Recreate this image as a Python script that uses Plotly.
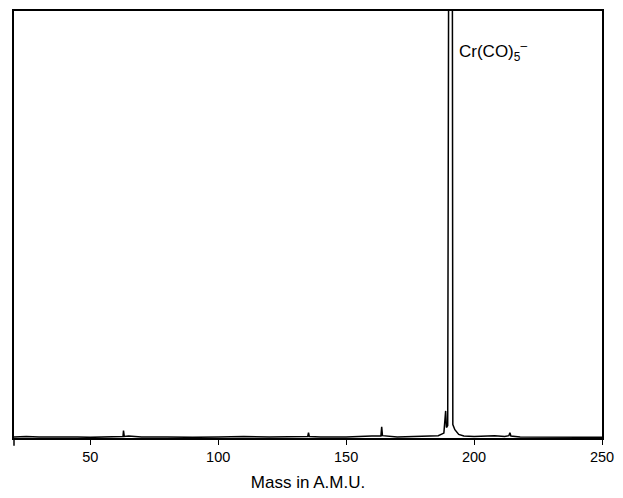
import plotly.graph_objects as go

# Negative-ion mass spectrum: profile trace (mass in amu, relative intensity)
mass = [20, 25, 30, 35, 40, 45, 50, 55, 60, 62.8, 63.0, 63.3, 65, 70, 80, 90,
        100, 110, 120, 130, 135.0, 135.3, 135.6, 140, 150, 160, 163.6, 163.9,
        164.2, 170, 180, 186, 188.2, 188.6, 188.9, 189.2, 189.7, 190.1, 191.5,
        191.7, 192.5, 194, 196, 200, 205, 208, 212, 213.6, 214.0, 214.4, 218,
        230, 250]
intensity = [0.1, 0.2, 0.1, 0.1, 0.2, 0.1, 0.0, 0.1, 0.1, 0.2, 1.6, 0.2, 0.3,
             0.1, 0.1, 0.0, 0.1, 0.2, 0.1, 0.1, 0.2, 1.1, 0.2, 0.1, 0.1, 0.3,
             0.3, 2.5, 0.4, 0.1, 0.2, 0.4, 1.0, 6.0, 6.2, 2.3, 2.8, 120, 120,
             3.0, 1.8, 0.7, 0.3, 0.2, 0.3, 0.4, 0.2, 0.4, 1.1, 0.3, 0.1, 0.0,
             0.0]

tick_vals = [50, 100, 150, 200, 250]
peak_label = "Cr(CO)<sub>5</sub><sup>\u2013</sup>"

fig = go.Figure()
fig.add_trace(go.Scatter(
    x=mass, y=intensity, mode="lines",
    line=dict(color="black", width=1.5),
    hoverinfo="skip", showlegend=False,
))

fig.update_layout(
    width=623, height=498,
    margin=dict(l=14, r=12, t=9, b=56),
    paper_bgcolor="white", plot_bgcolor="white",
    font=dict(family="Liberation Sans, Arial, sans-serif", size=15, color="black"),
    xaxis=dict(
        range=[20.2, 250], tickvals=tick_vals, ticktext=[str(v) for v in tick_vals],
        ticks="outside", ticklen=5, tickwidth=1.2, tickcolor="black",
        ticklabeloverflow="allow",
        showline=True, linecolor="black", linewidth=1.5, mirror=True,
        showgrid=False, zeroline=False,
        title=dict(text="Mass in A.M.U.", standoff=12, font=dict(size=17)),
        tickfont=dict(size=14.5),
    ),
    yaxis=dict(
        range=[-0.15, 100], showticklabels=False, ticks="",
        showline=True, linecolor="black", linewidth=1.5, mirror=True,
        showgrid=False, zeroline=False,
    ),
    annotations=[dict(
        x=193.2, xref="x", y=0.905, yref="paper", text=peak_label,
        showarrow=False, xanchor="left", yanchor="middle",
        font=dict(size=17, color="black"),
    )],
    shapes=[dict(
        type="line", xref="paper", yref="paper", x0=0, x1=0, y0=0, y1=-0.018,
        line=dict(color="black", width=1.5),
    )],
)

# keep the page exactly the figure's size (no body margin, no scrollbars)
page_fix = ("document.body.style.margin='0';"
            "document.documentElement.style.overflow='hidden';"
            "document.body.style.overflow='hidden';")
fig.write_html("out.html", post_script=page_fix)
